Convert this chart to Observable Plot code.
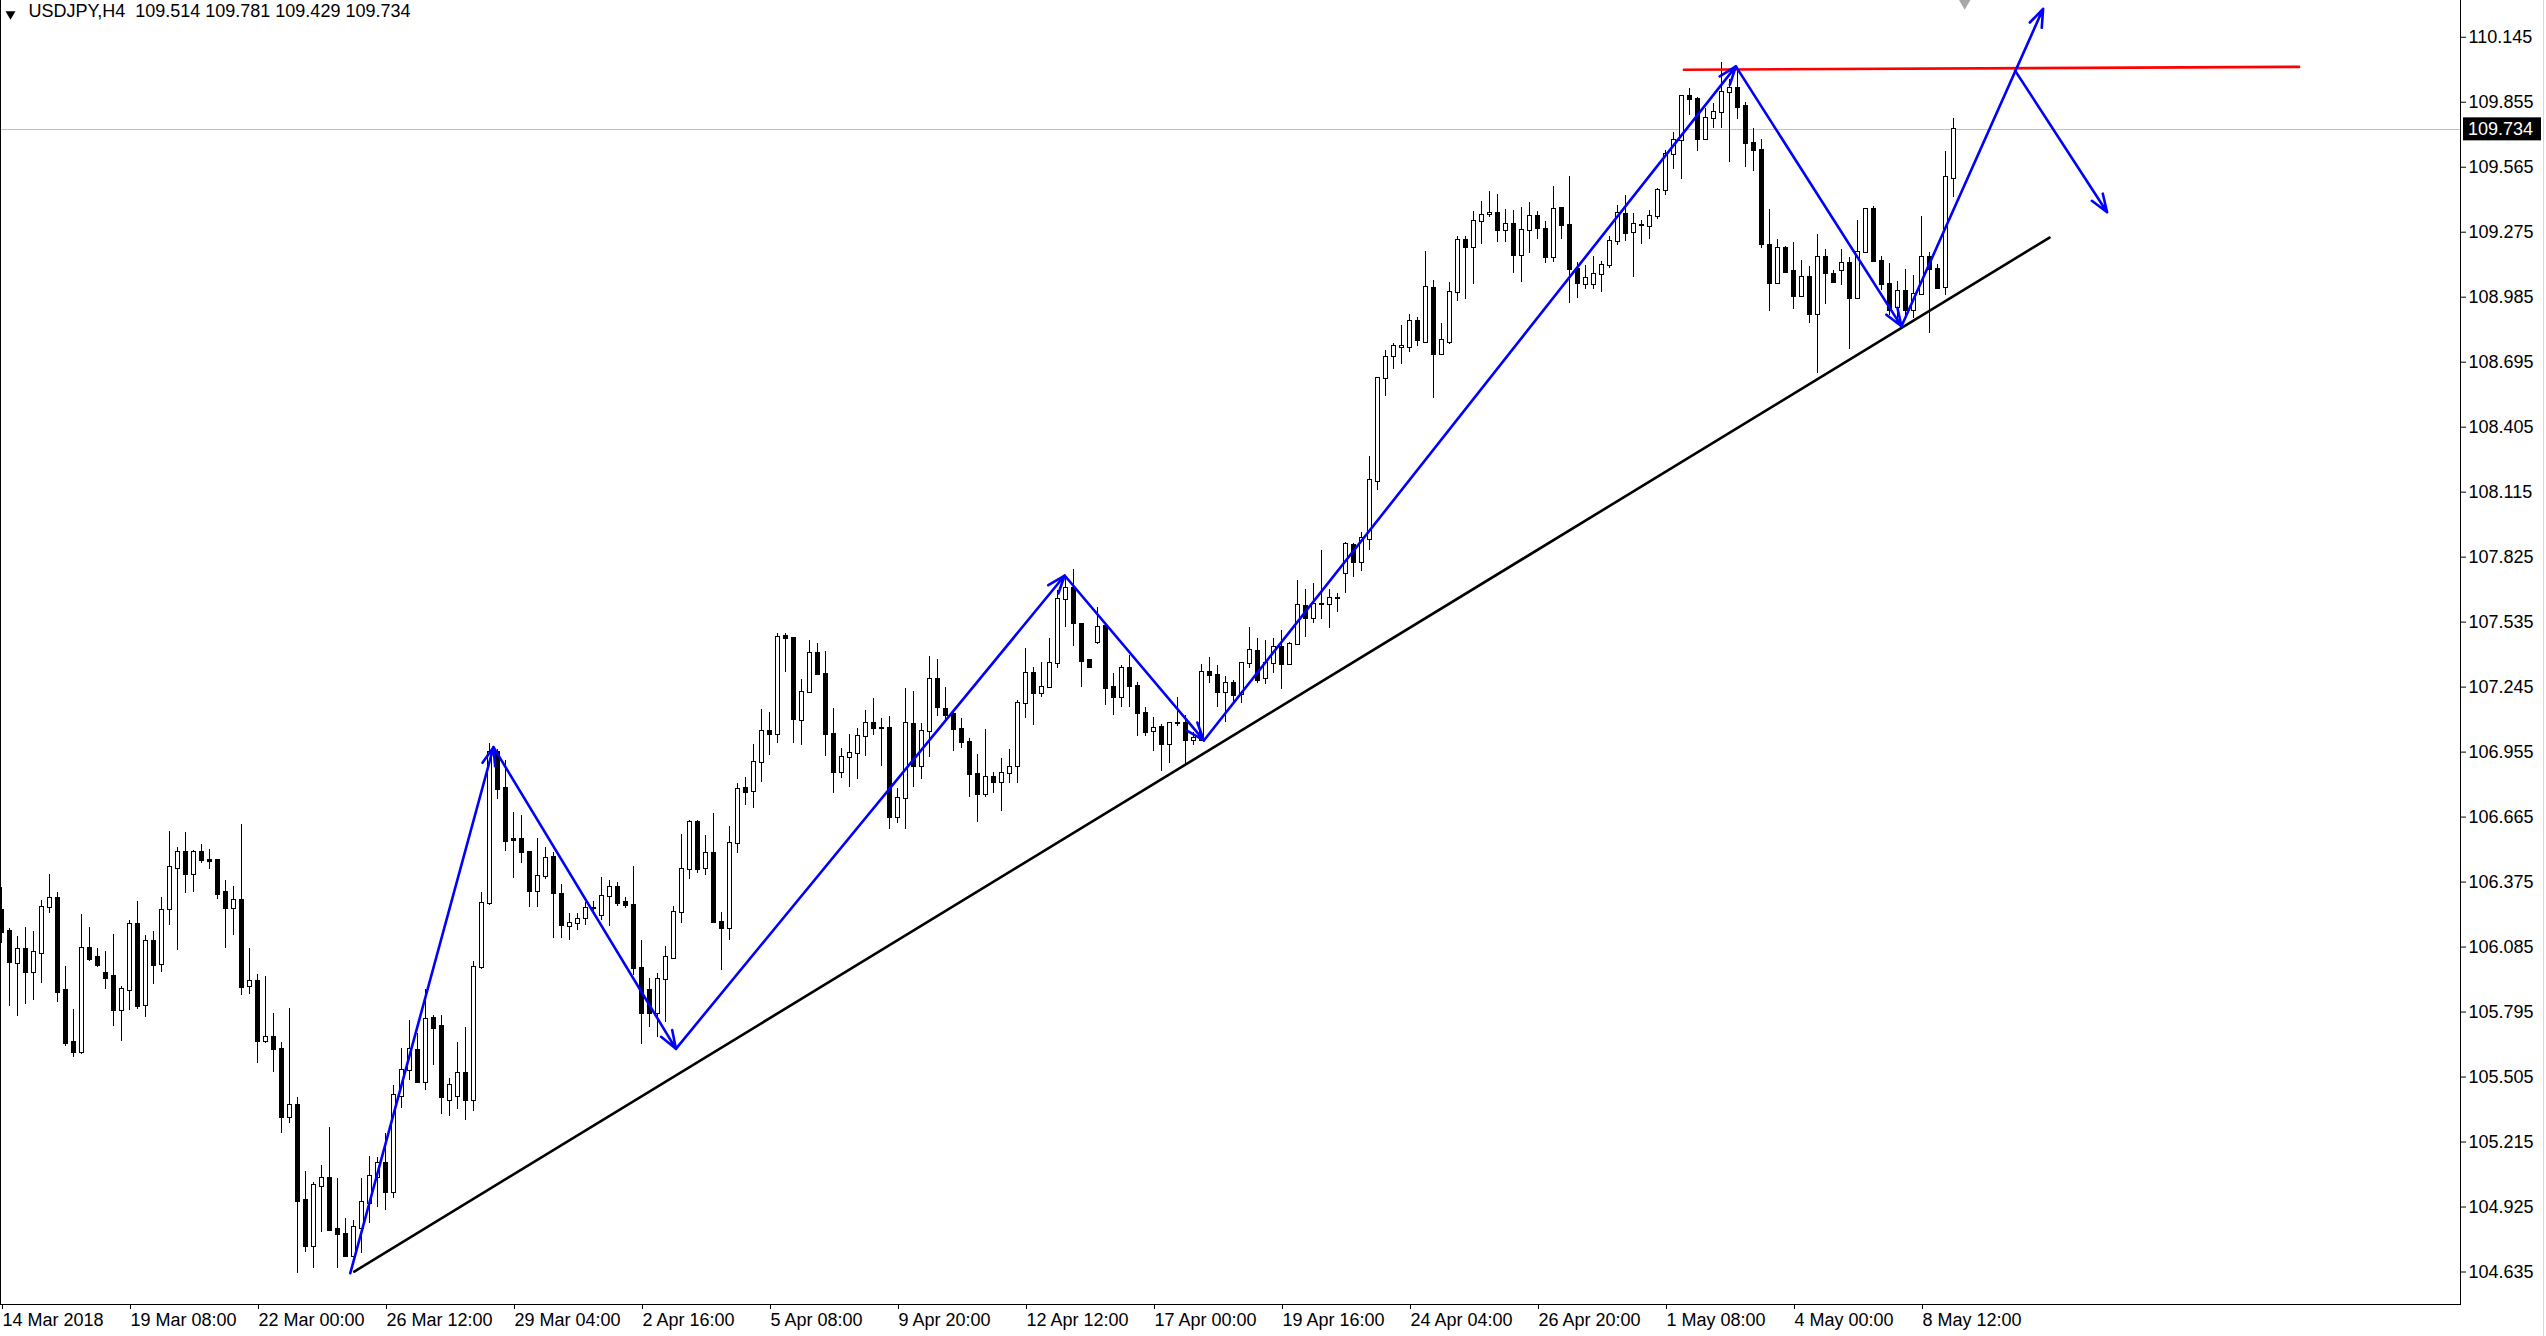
<!DOCTYPE html>
<html><head><meta charset="utf-8">
<script src="https://cdn.jsdelivr.net/npm/d3@7"></script>
<script src="https://cdn.jsdelivr.net/npm/@observablehq/plot@0.6"></script>
<style>
html,body{margin:0;padding:0;background:#fff;}
#chart svg{display:block;}
</style></head><body><div id="chart"></div>
<script>
const symbol = "USDJPY";
const timeframe = "H4";

const opens = [106.248,106.154,106.013,106.072,105.973,106.057,106.260,106.301,105.891,105.659,105.616,106.077,106.037,105.967,105.953,105.803,105.892,106.184,105.825,106.108,106.005,106.251,106.434,106.507,106.411,106.507,106.470,106.471,106.328,106.258,106.293,105.909,105.931,105.665,105.680,105.626,105.323,105.378,104.954,104.750,105.018,105.051,104.823,104.801,104.706,104.828,104.939,105.058,105.121,104.991,105.420,105.534,105.623,105.482,105.765,105.730,105.400,105.420,105.519,105.400,105.995,106.278,106.952,106.791,106.563,106.563,106.508,106.334,106.400,106.483,106.318,106.177,106.189,106.211,106.258,106.226,106.311,106.349,106.282,106.270,105.988,105.891,105.787,105.939,106.032,106.241,106.429,106.639,106.434,106.501,106.196,106.166,106.548,106.791,106.779,106.910,107.048,107.033,107.472,107.460,107.096,107.222,107.393,107.300,107.032,106.862,106.932,106.947,107.026,107.081,107.062,107.059,106.665,106.746,107.078,106.892,107.048,107.277,107.143,107.122,107.054,106.999,106.853,106.765,106.843,106.818,106.858,106.892,107.170,107.304,107.218,107.242,107.349,107.634,107.683,107.523,107.364,107.445,107.515,107.242,107.200,107.326,107.249,107.126,107.048,107.063,106.987,107.081,107.081,107.007,107.009,107.311,107.297,107.222,107.259,107.212,107.349,107.404,107.282,107.349,107.420,107.346,107.435,107.606,107.549,107.612,107.612,107.640,107.752,107.877,107.803,107.904,108.161,108.620,108.721,108.762,108.762,108.877,108.785,109.024,108.730,108.785,109.006,109.239,109.208,109.323,109.355,109.360,109.281,109.309,109.171,109.281,109.345,109.287,109.162,109.382,109.305,109.107,109.042,109.042,109.085,109.125,109.235,109.355,109.272,109.305,109.300,109.345,109.461,109.621,109.684,109.880,109.865,109.688,109.781,109.807,109.897,109.915,109.836,109.669,109.639,109.215,109.044,109.201,109.099,108.989,109.071,108.910,109.160,109.085,109.104,109.134,108.977,109.183,109.375,109.144,109.041,108.937,109.010,108.925,108.995,109.160,109.110,109.029,109.514];
const highs = [106.352,106.166,106.132,106.172,106.154,106.292,106.408,106.328,105.998,105.806,106.230,106.172,106.078,106.065,106.141,105.909,106.203,106.288,106.136,106.154,106.306,106.600,106.529,106.596,106.516,106.542,106.520,106.475,106.382,106.355,106.632,106.079,105.963,105.954,105.787,105.658,105.809,105.415,105.083,105.033,105.110,105.281,105.051,104.872,104.865,105.051,105.150,105.147,105.252,105.467,105.631,105.757,105.698,105.894,105.779,105.779,105.500,105.660,105.727,106.020,106.327,106.992,106.965,106.917,106.684,106.672,106.510,106.568,106.531,106.508,106.363,106.233,106.233,106.285,106.288,106.397,106.382,106.375,106.308,106.444,106.114,105.943,105.968,106.087,106.266,106.587,106.650,106.650,106.583,106.679,106.241,106.623,106.816,106.843,106.989,107.143,107.133,107.483,107.483,107.468,107.277,107.453,107.438,107.404,107.148,106.969,107.033,107.059,107.140,107.192,107.103,107.114,106.791,107.237,107.225,107.081,107.381,107.368,107.245,107.140,107.103,107.014,106.944,107.054,106.865,106.925,106.965,107.185,107.416,107.334,107.356,107.460,107.676,107.735,107.768,107.527,107.367,107.601,107.520,107.304,107.341,107.386,107.267,107.155,107.111,107.076,107.088,107.200,107.118,107.044,107.346,107.375,107.341,107.292,107.274,107.356,107.509,107.460,107.453,107.460,107.497,107.445,107.723,107.679,107.706,107.855,107.680,107.663,107.889,107.886,107.937,108.275,108.624,108.745,108.780,108.859,108.908,108.896,109.189,109.061,108.868,109.052,109.257,109.257,109.367,109.413,109.456,109.443,109.377,109.373,109.386,109.406,109.367,109.323,109.479,109.386,109.524,109.138,109.125,109.167,109.143,109.254,109.395,109.437,109.358,109.327,109.373,109.468,109.640,109.720,109.885,109.915,109.874,109.825,109.848,110.034,109.955,110.011,109.855,109.736,109.687,109.375,109.241,109.211,109.227,109.151,109.122,109.267,109.196,109.104,109.196,109.163,109.327,109.382,109.391,109.166,109.134,109.056,109.107,109.082,109.345,109.183,109.131,109.636,109.781];
const lows = [106.099,105.819,105.775,105.830,105.846,105.924,106.236,105.839,105.641,105.593,105.604,106.022,105.995,105.895,105.730,105.665,105.802,105.808,105.772,105.918,105.971,106.181,106.069,106.324,106.328,106.459,106.432,106.297,106.080,106.137,105.869,105.873,105.567,105.656,105.527,105.252,105.296,104.627,104.723,104.649,104.813,104.817,104.649,104.698,104.701,104.716,104.850,104.921,104.909,104.961,105.363,105.489,105.475,105.445,105.556,105.338,105.330,105.360,105.310,105.350,105.983,106.270,106.742,106.513,106.389,106.459,106.260,106.260,106.385,106.122,106.122,106.114,106.159,106.181,106.233,106.203,106.177,106.266,106.255,105.958,105.650,105.727,105.683,105.750,106.028,106.192,106.385,106.415,106.404,106.189,105.980,106.114,106.501,106.717,106.702,106.821,106.940,106.992,107.312,106.992,106.984,107.215,107.297,106.937,106.769,106.836,106.795,106.833,106.937,107.029,106.892,106.608,106.638,106.608,106.798,106.834,106.932,107.114,107.096,106.959,106.969,106.751,106.642,106.754,106.771,106.691,106.813,106.813,107.103,107.073,107.197,107.240,107.326,107.512,107.426,107.245,107.331,107.435,107.163,107.118,107.155,107.155,107.026,107.024,106.959,106.870,106.905,107.069,106.892,106.984,107.007,107.262,107.155,107.088,107.170,107.173,107.326,107.259,107.255,107.304,107.233,107.341,107.430,107.468,107.527,107.545,107.505,107.580,107.662,107.733,107.763,107.855,108.121,108.543,108.662,108.684,108.740,108.763,108.782,108.534,108.727,108.776,108.965,108.975,109.042,109.222,109.342,109.230,109.230,109.092,109.052,109.180,109.244,109.134,109.140,109.244,108.956,108.978,109.020,109.020,109.006,109.112,109.217,109.235,109.074,109.222,109.244,109.333,109.437,109.557,109.508,109.796,109.636,109.684,109.736,109.736,109.587,109.778,109.562,109.547,109.201,108.922,109.041,109.089,108.928,108.988,108.866,108.643,108.951,109.049,109.035,108.750,108.976,109.181,109.143,109.015,108.903,108.866,108.896,108.888,108.994,108.821,109.022,108.992,109.429];
const closes = [106.151,106.017,106.072,105.973,106.059,106.261,106.301,105.883,105.656,105.616,106.077,106.031,106.002,105.946,105.803,105.894,106.184,105.821,106.108,106.004,106.246,106.438,106.507,106.410,106.507,106.470,106.468,106.321,106.258,106.292,105.906,105.930,105.665,105.680,105.626,105.326,105.378,104.951,104.750,105.021,105.051,104.820,104.801,104.706,104.834,104.944,105.061,105.121,104.991,105.423,105.534,105.626,105.482,105.760,105.723,105.412,105.467,105.519,105.400,105.992,106.278,106.952,106.786,106.557,106.560,106.508,106.334,106.400,106.479,106.322,106.181,106.189,106.206,106.255,106.258,106.311,106.349,106.281,106.269,105.988,105.787,105.787,105.939,106.037,106.238,106.429,106.639,106.432,106.501,106.196,106.166,106.548,106.786,106.776,106.910,107.048,107.033,107.468,107.460,107.099,107.222,107.393,107.300,107.032,106.862,106.932,106.947,107.026,107.081,107.062,107.060,106.665,106.746,107.081,106.892,107.048,107.277,107.152,107.118,107.054,106.999,106.853,106.768,106.840,106.818,106.858,106.887,107.170,107.304,107.218,107.242,107.349,107.634,107.683,107.527,107.361,107.334,107.512,107.240,107.197,107.326,107.249,107.126,107.044,107.062,106.987,107.081,107.081,107.007,107.014,107.311,107.297,107.222,107.259,107.207,107.349,107.408,107.274,107.349,107.420,107.344,107.435,107.609,107.549,107.612,107.612,107.640,107.640,107.880,107.803,107.908,108.165,108.620,108.717,108.767,108.764,108.877,108.791,109.028,108.730,108.791,109.006,109.239,109.208,109.322,109.349,109.357,109.281,109.309,109.171,109.281,109.345,109.290,109.162,109.377,109.303,109.107,109.048,109.070,109.085,109.125,109.235,109.358,109.268,109.309,109.307,109.345,109.461,109.621,109.684,109.880,109.865,109.688,109.781,109.807,109.897,109.915,109.833,109.669,109.639,109.218,109.044,109.201,109.096,108.989,109.071,108.910,109.160,109.089,109.052,109.134,108.977,109.183,109.375,109.144,109.041,108.925,109.010,108.925,108.995,109.160,109.110,109.025,109.517,109.734];

const timeTickBars = [0,16,32,48,64,80,96,112,128,144,160,176,192,208,224,240];
const timeTickLabels = ["14 Mar 2018","19 Mar 08:00","22 Mar 00:00","26 Mar 12:00","29 Mar 04:00","2 Apr 16:00","5 Apr 08:00","9 Apr 20:00","12 Apr 12:00","17 Apr 00:00","19 Apr 16:00","24 Apr 04:00","26 Apr 20:00","1 May 08:00","4 May 00:00","8 May 12:00"];
const priceTicks = [110.145,109.855,109.565,109.275,108.985,108.695,108.405,108.115,107.825,107.535,107.245,106.955,106.665,106.375,106.085,105.795,105.505,105.215,104.925,104.635];

// drawn objects (bar index, price)
const trendBars = [44.1, 256.0];
const trendPrices = [104.637, 109.251];
const resistBars = [210.3, 287.2];
const resistPrices = [110.000, 110.013];
const zigBars = [43.6, 61.5, 84.3, 132.9, 150.3, 216.8, 237.5, 255.2];
const zigPrices = [104.630, 106.977, 105.631, 107.743, 107.007, 110.015, 108.855, 110.272];
const projBars = [251.7, 263.2];
const projPrices = [109.996, 109.364];
const shiftMarkerBar = 245.4;

const bars = opens.map((o, i) => ({i, open: o, high: highs[i], low: lows[i], close: closes[i]}));
const last = bars[bars.length - 1];
const fmt = v => v.toFixed(3);
const labelMap = new Map(timeTickBars.map((b, k) => [b, timeTickLabels[k]]));
const trendPts = trendBars.map((b, k) => ({x: b, y: trendPrices[k]}));
const resistPts = resistBars.map((b, k) => ({x: b, y: resistPrices[k]}));
const segs = [];
for (let k = 0; k < zigBars.length - 1; k++) segs.push({x1: zigBars[k], y1: zigPrices[k], x2: zigBars[k+1], y2: zigPrices[k+1]});
segs.push({x1: projBars[0], y1: projPrices[0], x2: projBars[1], y2: projPrices[1]});
const headerText = `${symbol},${timeframe}\u00a0\u00a0${fmt(last.open)} ${fmt(last.high)} ${fmt(last.low)} ${fmt(last.close)}`;

const FONT = "Tahoma, 'Liberation Sans', Arial, sans-serif";

const chart = Plot.plot({
  width: 2546, height: 1336,
  marginLeft: 0, marginRight: 86, marginTop: 0, marginBottom: 32,
  style: {fontFamily: FONT, fontSize: "18px", background: "#fff", color: "#000"},
  x: {type: "linear", domain: [-0.125, 307.375]},
  y: {type: "linear", domain: [104.490, 110.309]},
  marks: [
    Plot.ruleY([last.close], {stroke: "#c0c0c0", strokeWidth: 1, shapeRendering: "crispEdges"}),
    Plot.ruleX(bars, {x: "i", y1: "low", y2: "high", stroke: "#000", strokeWidth: 1, shapeRendering: "crispEdges"}),
    Plot.rect(bars, {x1: d => d.i - 0.25, x2: d => d.i + 0.25, y1: "open", y2: "close",
      fill: d => d.close >= d.open ? "#fff" : "#000", stroke: "#000", strokeWidth: 1,
      insetTop: -0.5, insetBottom: -0.5, shapeRendering: "crispEdges"}),
    Plot.line(trendPts, {x: "x", y: "y", stroke: "#000", strokeWidth: 2.6}),
    Plot.line(resistPts, {x: "x", y: "y", stroke: "#ff0000", strokeWidth: 2.6}),
    Plot.arrow(segs, {x1: "x1", y1: "y1", x2: "x2", y2: "y2", stroke: "#0000ff", strokeWidth: 2.6, headLength: 11, headAngle: 40}),
    Plot.frame({anchor: "left", stroke: "#000", shapeRendering: "crispEdges"}),
    Plot.frame({anchor: "right", stroke: "#000", shapeRendering: "crispEdges"}),
    Plot.frame({anchor: "bottom", stroke: "#000", shapeRendering: "crispEdges"}),
    Plot.axisY(priceTicks, {anchor: "right", tickSize: 5, tickPadding: 3, tickFormat: fmt, label: null, fill: "#000"}),
    Plot.axisX(timeTickBars, {anchor: "bottom", tickSize: 5, tickPadding: 4, tickFormat: d => labelMap.get(d), textAnchor: "start", dx: 1, label: null, fill: "#000"}),
    Plot.dot([shiftMarkerBar], {x: d => d, frameAnchor: "top", symbol: "triangle", rotate: 180, r: 6, fill: "#a8a8a8", stroke: "none"}),
    Plot.dot([0], {frameAnchor: "top-left", dx: 10, dy: 13.6, symbol: "triangle", rotate: 180, r: 3.7, fill: "#000", stroke: "none"}),
    Plot.text([headerText], {text: d => d, frameAnchor: "top-left", dx: 28, dy: 4, textAnchor: "start", lineAnchor: "top", fontSize: 18, fill: "#000"})
  ]
});

document.getElementById("chart").appendChild(chart);

// current price label on the price axis
const yPx = chart.scale("y").apply(last.close);
const xAxis = 2546 - 86;
const g = d3.select(chart).append("g");
g.append("rect").attr("x", xAxis + 3).attr("y", yPx - 11.5).attr("width", 78).attr("height", 23).attr("fill", "#000");
g.append("text").attr("x", xAxis + 8).attr("y", yPx).attr("dy", "0.35em").attr("fill", "#fff")
  .attr("text-anchor", "start").attr("font-family", FONT).attr("font-size", 18).text(fmt(last.close));
// thin window border at the far right
d3.select(chart).append("line").attr("x1", 2543.5).attr("x2", 2543.5).attr("y1", 0).attr("y2", 1336).attr("stroke", "#d8d8d8");
</script>
</body></html>
